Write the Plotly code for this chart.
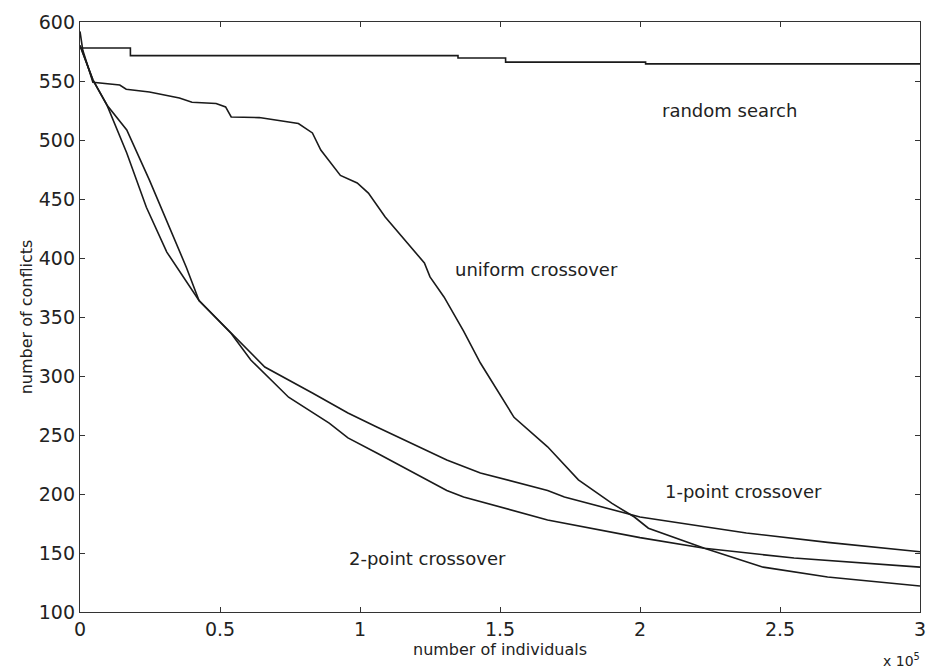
import plotly.graph_objects as go

# x in units of 1e5 individuals
random_x = [0, 0.18, 1.35, 1.52, 2.02, 3.0]
random_y = [578, 571.5, 569.5, 566, 564.5, 564.5]

uniform_x = [0, 0.01, 0.046, 0.142, 0.165, 0.248, 0.355, 0.40, 0.486, 0.52, 0.54, 0.64,
             0.78, 0.83, 0.86, 0.93, 0.99, 1.03, 1.09, 1.13, 1.18, 1.23, 1.25, 1.30, 1.37,
             1.43, 1.55, 1.67, 1.78, 1.90, 1.98, 2.03, 2.23, 2.44, 2.67, 3.0]
uniform_y = [592, 576, 549, 546.6, 543, 540.7, 535.6, 532, 531, 528, 519.5, 519,
             514, 506, 491.5, 470, 463.6, 455, 434.7, 423.7, 409, 395.8, 384, 367, 338,
             311, 265, 240, 212, 192, 180.5, 171, 154, 138, 129.7, 122]

one_pt_x = [0, 0.046, 0.096, 0.167, 0.237, 0.31, 0.425, 0.54, 0.66, 0.83, 0.875, 0.957,
            1.06, 1.31, 1.43, 1.67, 1.73, 2.0, 2.38, 2.67, 3.0]
one_pt_y = [580, 551, 529.7, 489, 443, 405, 364, 336, 307.6, 285.6, 279.7, 268.6,
            256.8, 228.8, 217.8, 203, 197.5, 180.5, 167, 159, 151]

two_pt_x = [0, 0.046, 0.096, 0.167, 0.248, 0.32, 0.38, 0.425, 0.54, 0.61, 0.745, 0.89,
            0.957, 1.06, 1.31, 1.37, 1.67, 2.0, 2.23, 2.55, 3.0]
two_pt_y = [580, 551, 529.7, 508.5, 466, 426, 392, 364, 336, 313.6, 282, 260,
            247.5, 234.7, 203, 197.5, 178, 163, 154, 145.7, 138]

x_ticks = [0, 0.5, 1, 1.5, 2, 2.5, 3]
x_tick_labels = ["0", "0.5", "1", "1.5", "2", "2.5", "3"]
y_ticks = [100, 150, 200, 250, 300, 350, 400, 450, 500, 550, 600]

labels = ["random search", "uniform crossover", "1-point crossover", "2-point crossover"]
label_x = [2.32, 1.63, 2.37, 1.24]
label_y = [525, 390, 202, 145]

LINE = "#1a1a1a"
FONT = "DejaVu Sans, Liberation Sans, sans-serif"

fig = go.Figure()
fig.add_trace(go.Scatter(x=random_x, y=random_y, mode="lines", line_shape="hv",
                         line=dict(color=LINE, width=1.6), name="random search"))
for xs, ys, nm in [(uniform_x, uniform_y, "uniform crossover"),
                   (one_pt_x, one_pt_y, "1-point crossover"),
                   (two_pt_x, two_pt_y, "2-point crossover")]:
    fig.add_trace(go.Scatter(x=xs, y=ys, mode="lines",
                             line=dict(color=LINE, width=1.6), name=nm))

for t, lx, ly in zip(labels, label_x, label_y):
    fig.add_annotation(x=lx, y=ly, text=t, showarrow=False, xref="x", yref="y",
                       font=dict(family=FONT, size=18, color="#222"))

fig.add_annotation(x=1.0, y=0, xref="paper", yref="paper", xanchor="right", yanchor="top",
                   yshift=-37, xshift=2, text="x 10<sup>5</sup>", showarrow=False,
                   font=dict(family=FONT, size=14, color="#222"))

axis_common = dict(showline=True, linecolor="#333", linewidth=1.3, mirror="ticks",
                   ticks="inside", ticklen=5, tickcolor="#333", showgrid=False,
                   zeroline=False, tickfont=dict(family=FONT, size=19, color="#222"))

fig.update_xaxes(range=[0, 3], tickvals=x_ticks, ticktext=x_tick_labels,
                 title=dict(text="number of individuals", standoff=2,
                            font=dict(family=FONT, size=16, color="#222")),
                 **axis_common)
fig.update_yaxes(range=[100, 600], tickvals=y_ticks,
                 title=dict(text="number of conflicts", standoff=2,
                            font=dict(family=FONT, size=16, color="#222")),
                 **axis_common)

fig.update_layout(width=933, height=668, showlegend=False,
                  plot_bgcolor="white", paper_bgcolor="white",
                  margin=dict(l=80, r=7, t=22, b=56))

fig.write_html("out.html")
